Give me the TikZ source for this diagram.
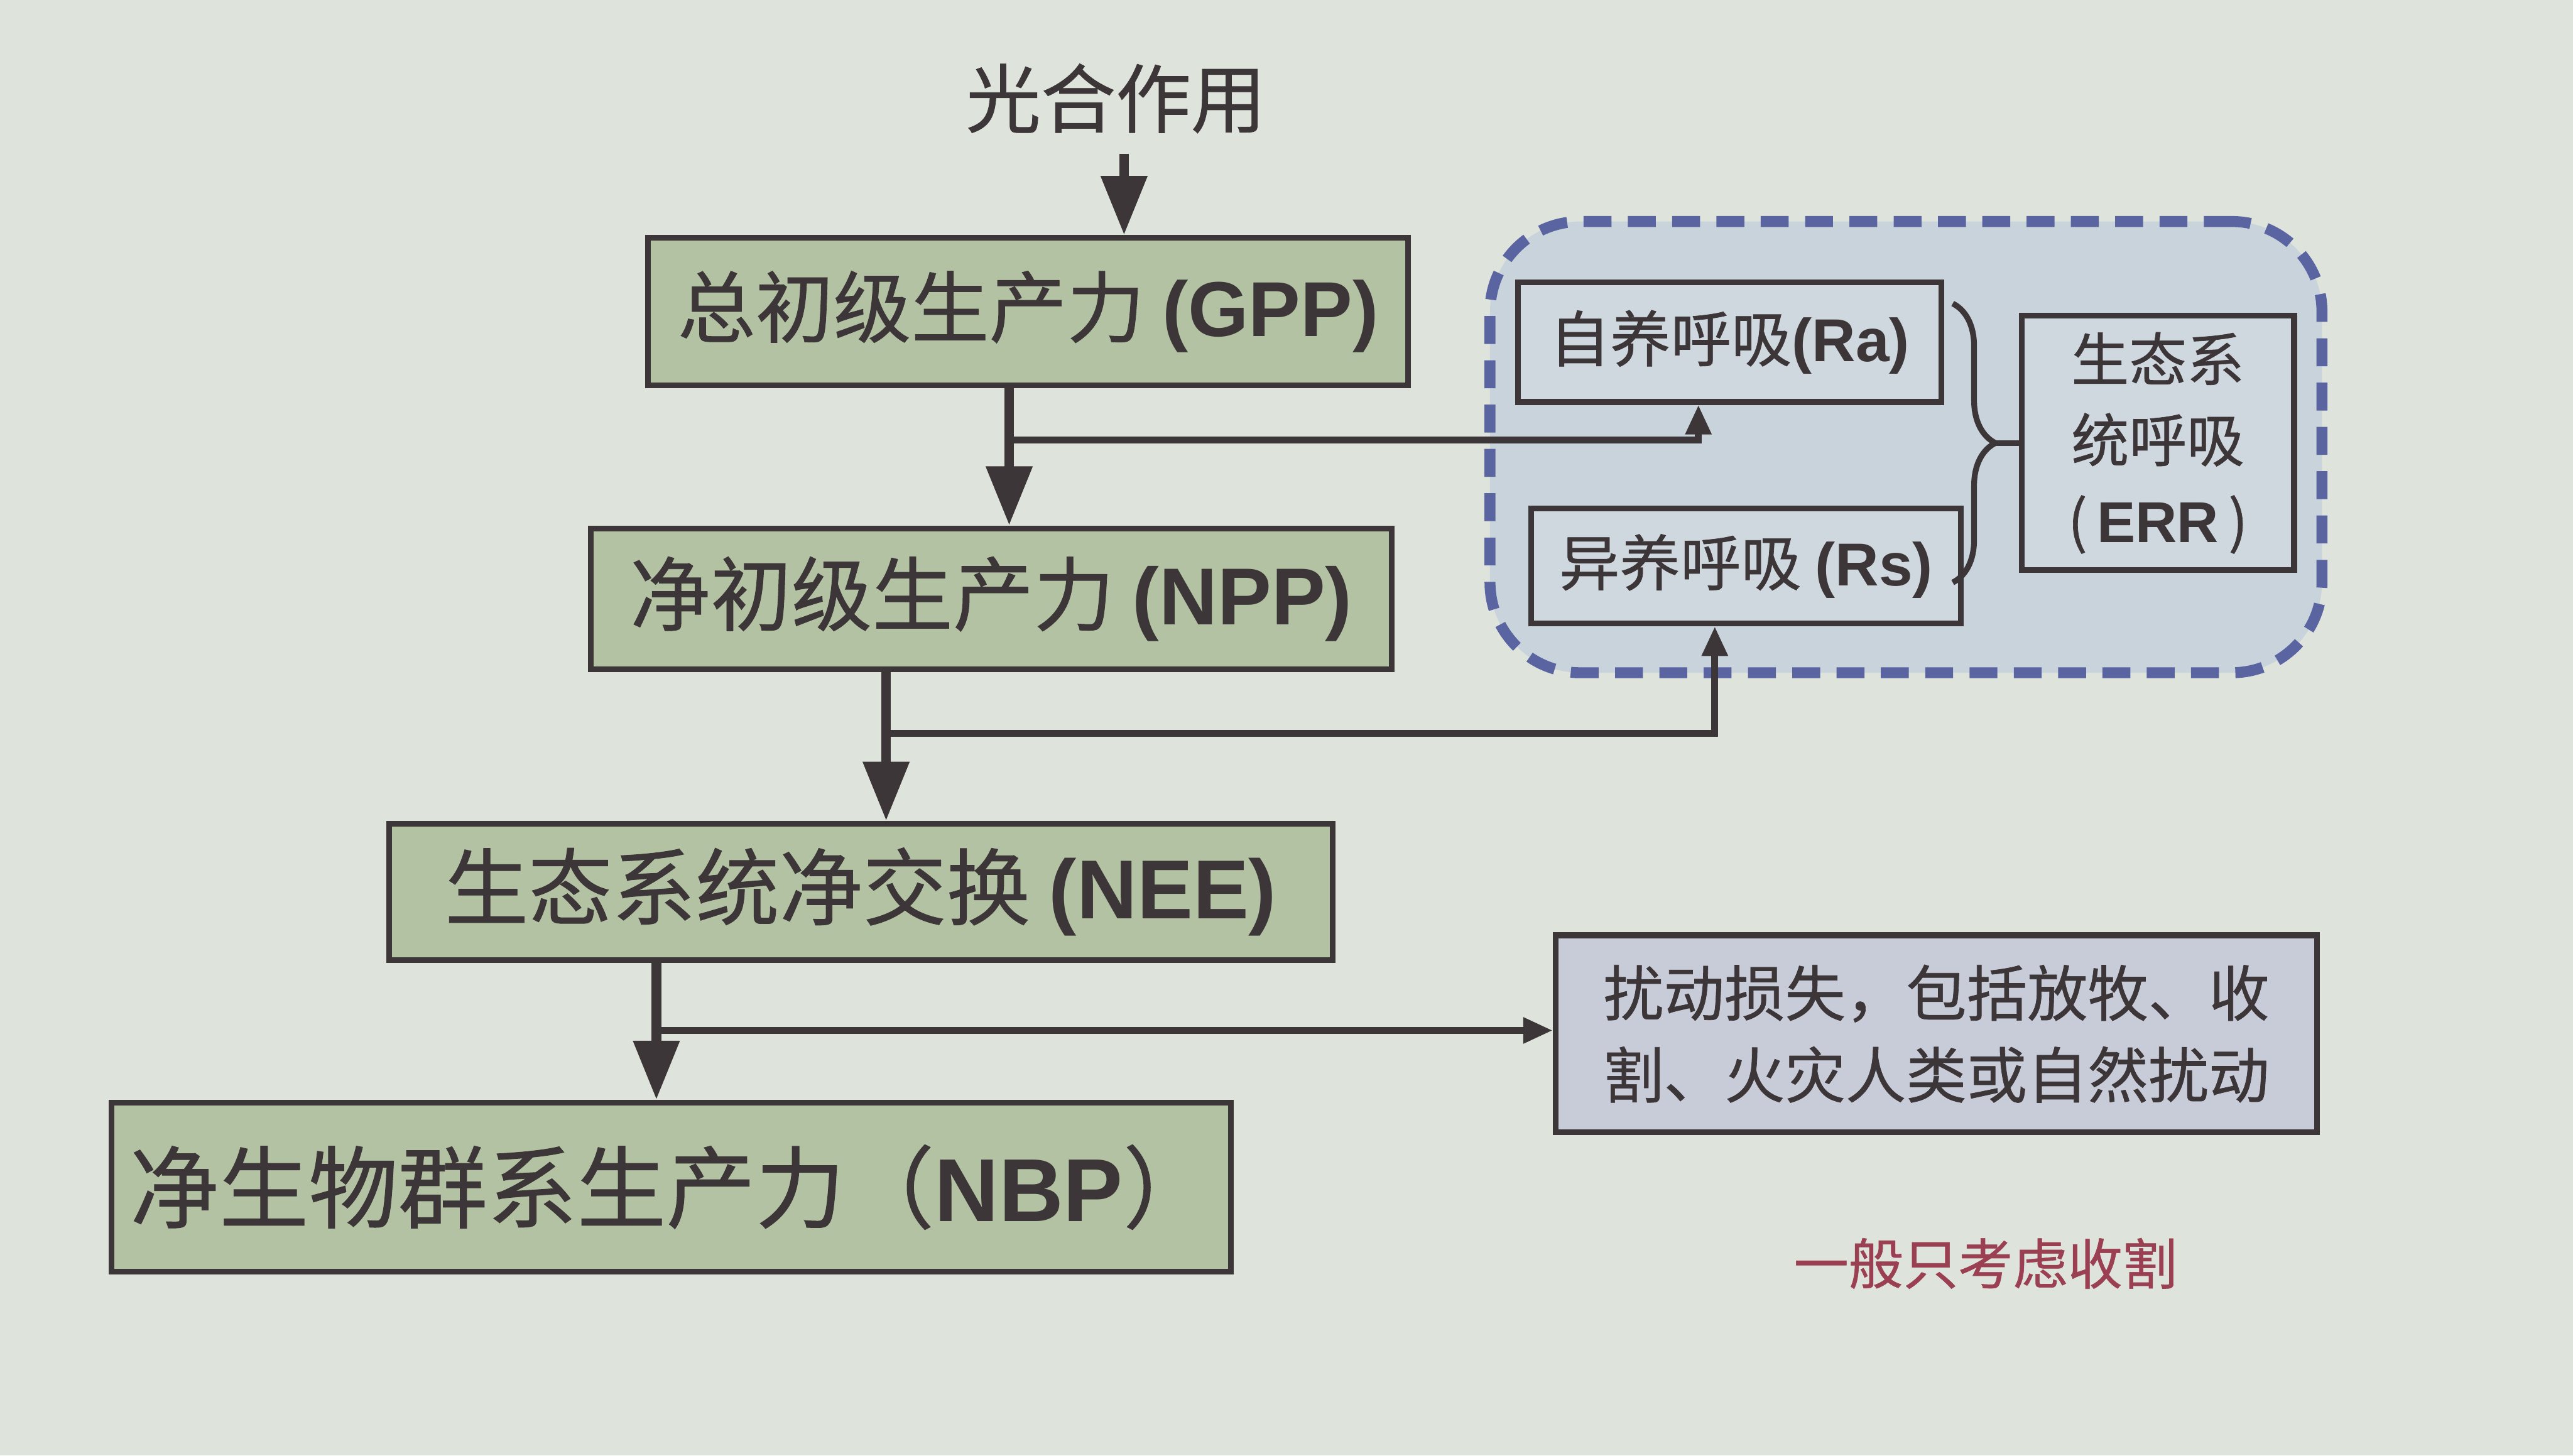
\documentclass[tikz,border=0pt]{standalone}
\usepackage{fontspec}
\setmainfont{Liberation Sans}
\newfontfamily\cjk{Noto Sans CJK SC}[FakeBold=0.7]
\newfontfamily\latinf{Liberation Sans}
\newcommand\lb[1]{{\latinf\bfseries #1}}
\usetikzlibrary{arrows.meta,calc,decorations.pathreplacing}
\definecolor{bg}{HTML}{DEE4DC}
\definecolor{gfill}{HTML}{B3C2A2}
\definecolor{bfill}{HTML}{C9D3DC}
\definecolor{rfill}{HTML}{CFD8DF}
\definecolor{dfill}{HTML}{C8CCD8}
\definecolor{dashblue}{HTML}{5A64A0}
\definecolor{ink}{HTML}{3C3638}
\definecolor{notered}{HTML}{9A4052}
\tikzset{
  gbox/.style={draw=ink, line width=1pt, fill=gfill, text=ink, inner sep=0pt},
  rbox/.style={draw=ink, line width=1pt, fill=rfill, text=ink, inner sep=0pt},
  flow/.style={draw=ink, line width=1.7pt, -{Triangle[width=0.27cm,length=0.36cm]}},
  branch/.style={draw=ink, line width=1.2pt, -{Triangle[width=0.15cm,length=0.18cm]}},
}
\begin{document}
\begin{tikzpicture}
\fill[bg] (0,0) rectangle (15.68,-8.87);
\useasboundingbox (0,0) rectangle (15.68,-8.87);

% dashed respiration region
\node[draw=dashblue, fill=bfill, line width=1.9pt, dash pattern=on 0.17cm off 0.10cm,
      rounded corners=0.55cm, minimum width=5.07cm, minimum height=2.75cm, inner sep=0pt]
      (resp) at (11.615,-2.725) {};

% text and boxes
\node[text=ink, font=\cjk\fontsize{13}{15}\selectfont] (photo) at (6.80,-0.60) {光合作用};
\node[gbox, minimum width=4.63cm, minimum height=0.90cm, font=\cjk\fontsize{13.5}{16}\selectfont]
  (gpp) at (6.265,-1.90) {总初级生产力 \lb{(GPP)}};
\node[gbox, minimum width=4.88cm, minimum height=0.86cm, font=\cjk\fontsize{14}{16}\selectfont]
  (npp) at (6.04,-3.65) {净初级生产力 \lb{(NPP)}};
\node[gbox, minimum width=5.75cm, minimum height=0.83cm, font=\cjk\fontsize{14.5}{17}\selectfont]
  (nee) at (5.245,-5.435) {生态系统净交换 \lb{(NEE)}};
\node[gbox, minimum width=6.82cm, minimum height=1.03cm, font=\cjk\fontsize{15.5}{18}\selectfont]
  (nbp) at (4.09,-7.235) {净生物群系生产力（\lb{NBP}）};

\node[rbox, minimum width=2.58cm, minimum height=0.73cm, font=\cjk\fontsize{10.5}{13}\selectfont]
  (ra) at (10.54,-2.085) {自养呼吸\lb{(Ra)}};
\node[rbox, minimum width=2.62cm, minimum height=0.70cm, font=\cjk\fontsize{10.5}{13}\selectfont]
  (rs) at (10.64,-3.45) {异养呼吸 \lb{(Rs)}};
\node[rbox, minimum width=1.66cm, minimum height=1.55cm, align=center,
      font=\cjk\fontsize{10}{14}\selectfont]
  (err) at (13.15,-2.70) {生态系\\统呼吸\\(\,\lb{ERR}\,)};

\node[draw=ink, line width=1pt, fill=dfill, text=ink, minimum width=4.64cm, minimum height=1.20cm,
      align=left, inner sep=0pt, font=\cjk\fontsize{10.5}{14.2}\selectfont]
  (dist) at (11.80,-6.30) {扰动损失，包括放牧、收\\割、火灾人类或自然扰动};

\node[text=notered, font=\cjk\fontsize{9.5}{11}\selectfont] (note) at (12.10,-7.70) {一般只考虑收割};

% branch points
\coordinate (b1) at (6.15,-2.68);
\coordinate (b2) at (5.40,-4.47);
\coordinate (b3) at (4.00,-6.28);
\coordinate (xph) at (6.85,0);
\coordinate (xra) at (10.35,0);
\coordinate (xrs) at (10.45,0);

% main flow
\draw[flow] (xph |- photo.south) -- (xph |- gpp.north);
\draw[flow] (b1 |- gpp.south) -- (b1 |- npp.north);
\draw[flow] (b2 |- npp.south) -- (b2 |- nee.north);
\draw[flow] (b3 |- nee.south) -- (b3 |- nbp.north);

% branches
\draw[branch] (b1) -| (xra |- ra.south);
\draw[branch] (b2) -| (xrs |- rs.south);
\draw[branch] (b3) -- (b3 -| dist.west);

% brace
\coordinate (bt) at (12.16,-2.70);
\draw[draw=ink, line width=1pt, decorate, decoration={brace, amplitude=0.26cm}]
  (11.90,-1.85) -- (11.90,-3.55);
\draw[draw=ink, line width=1pt] (bt) -- (err.west);
\end{tikzpicture}
\end{document}
